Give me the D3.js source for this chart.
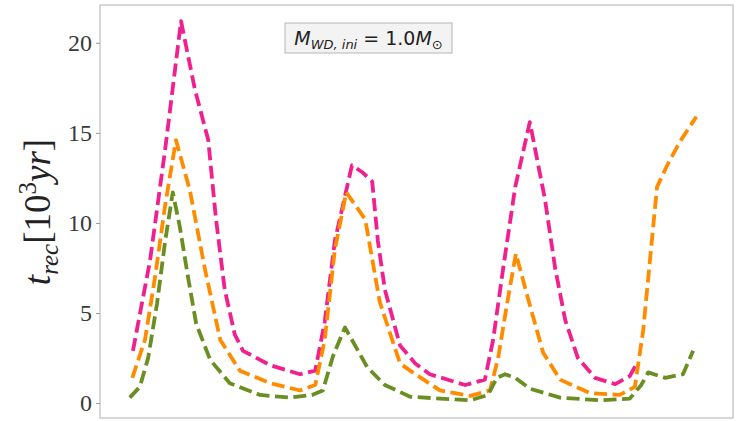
<!DOCTYPE html>
<html>
<head>
<meta charset="utf-8">
<script src="https://cdn.jsdelivr.net/npm/d3@7"></script>
<style>
  body { margin: 0; background: #fff; }
  svg { display: block; }
</style>
</head>
<body>
<div id="chart"></div>
<script>
// x is in arbitrary units (no tick labels on the x axis), y in 10^3 yr
const pinkX = [0.52, 0.79, 1.03, 1.28, 1.50, 1.71, 1.83, 1.97, 2.13, 2.26, 2.69, 3.16, 3.40, 3.55, 3.71, 3.98, 4.15, 4.30, 4.39, 4.50, 4.74, 4.98, 5.21, 5.77, 6.08, 6.21, 6.37, 6.56, 6.79, 7.03, 7.19, 7.35, 7.55, 7.82, 8.14, 8.37, 8.48];
const pinkY = [2.9, 7.9, 14.1, 21.2, 17.4, 14.6, 10.3, 6.3, 3.8, 2.9, 2.1, 1.6, 1.8, 4.5, 9.0, 13.2, 12.8, 12.3, 9.0, 6.3, 3.2, 2.2, 1.6, 1.0, 1.3, 3.5, 7.5, 12.0, 15.6, 11.3, 7.5, 4.6, 2.5, 1.4, 1.05, 1.5, 2.2];

const orangeX = [0.51, 0.71, 0.87, 1.03, 1.20, 1.42, 1.66, 1.90, 2.21, 2.69, 3.16, 3.40, 3.55, 3.71, 3.89, 4.19, 4.42, 4.74, 4.90, 5.37, 5.85, 6.16, 6.29, 6.43, 6.57, 6.77, 7.00, 7.27, 7.74, 8.21, 8.45, 8.58, 8.69, 8.80, 8.96, 9.16, 9.42];
const orangeY = [1.4, 3.5, 7.0, 11.0, 14.6, 11.8, 7.4, 3.5, 1.8, 1.1, 0.7, 1.0, 3.5, 8.5, 11.7, 10.2, 5.6, 2.2, 1.8, 0.7, 0.4, 0.7, 2.5, 5.5, 8.3, 5.7, 2.8, 1.3, 0.55, 0.45, 0.9, 4.0, 8.0, 12.0, 13.2, 14.5, 15.9];

const greenX = [0.47, 0.63, 0.76, 0.90, 1.03, 1.15, 1.26, 1.39, 1.52, 1.74, 2.05, 2.53, 3.00, 3.35, 3.52, 3.68, 3.87, 4.22, 4.50, 4.90, 5.37, 5.85, 6.13, 6.27, 6.40, 6.56, 6.79, 7.27, 7.90, 8.37, 8.55, 8.66, 8.93, 9.21, 9.37];
const greenY = [0.3, 0.9, 2.5, 5.5, 9.0, 11.7, 9.8, 7.0, 4.4, 2.4, 1.1, 0.45, 0.3, 0.45, 0.7, 2.6, 4.2, 2.0, 1.0, 0.35, 0.25, 0.15, 0.45, 1.4, 1.6, 1.4, 0.8, 0.3, 0.15, 0.25, 1.0, 1.7, 1.4, 1.6, 2.9];

const yTicks = [0, 5, 10, 15, 20];

const series = [
  { name: "pink", xs: pinkX, ys: pinkY, color: "#f0208f" },
  { name: "orange", xs: orangeX, ys: orangeY, color: "#ff8c00" },
  { name: "green", xs: greenX, ys: greenY, color: "#6b8e23" }
];

const width = 743, height = 421;
const margin = { top: 5, right: 10, bottom: 3, left: 100 };

let svg = d3.select("#chart")
    .append("svg")
    .attr("width", width)
    .attr("height", height);

let x = d3.scaleLinear()
    .domain([0, 10])
    .range([margin.left, width - margin.right]);

let y = d3.scaleLinear()
    .domain([-0.83, 22.1])
    .range([height - margin.bottom, margin.top]);

// frame
svg.append("rect")
    .attr("x", margin.left)
    .attr("y", margin.top)
    .attr("width", width - margin.right - margin.left)
    .attr("height", height - margin.bottom - margin.top)
    .attr("fill", "none")
    .attr("stroke", "#bdbdbd")
    .attr("stroke-width", 1.2);

// y axis
let yAxis = svg.append("g")
    .attr("transform", `translate(${margin.left}, 0)`)
    .call(d3.axisLeft(y).tickValues(yTicks).tickSize(4).tickPadding(4));
yAxis.select(".domain").remove();
yAxis.selectAll(".tick line").attr("stroke", "#999");
yAxis.selectAll(".tick text")
    .style("font-family", "'Liberation Serif', 'Times New Roman', serif")
    .style("font-size", "24px")
    .attr("fill", "#3a3a3a");

// y axis label
let yLabel = svg.append("text")
    .attr("transform", `translate(50, 212) rotate(-90)`)
    .style("text-anchor", "middle")
    .style("font-family", "'Liberation Serif', 'DejaVu Serif', serif")
    .style("font-size", "37px")
    .attr("fill", "#222");
yLabel.append("tspan").style("font-style", "italic").text("t");
yLabel.append("tspan").attr("dy", 8).style("font-size", "25px").style("font-style", "italic").text("rec");
yLabel.append("tspan").attr("dy", -8).text("[10");
yLabel.append("tspan").attr("dy", -14).style("font-size", "25px").text("3");
yLabel.append("tspan").attr("dy", 14).style("font-style", "italic").text("yr");
yLabel.append("tspan").text("]");

// lines
let line = d3.line()
    .x(d => x(d[0]))
    .y(d => y(d[1]));

svg.append("g").selectAll("path")
    .data(series)
    .enter()
    .append("path")
    .attr("d", s => line(d3.zip(s.xs, s.ys)))
    .attr("fill", "none")
    .attr("stroke", s => s.color)
    .attr("stroke-width", 3.8)
    .attr("stroke-dasharray", "13,5.5")
    .attr("stroke-linejoin", "round");

// annotation box
let note = svg.append("g");
note.append("rect")
    .attr("x", 285)
    .attr("y", 23)
    .attr("width", 167)
    .attr("height", 30)
    .attr("fill", "#f3f3f3")
    .attr("stroke", "#b5b5b5")
    .attr("stroke-width", 1);
let noteText = note.append("text")
    .attr("x", 368.5)
    .attr("y", 45)
    .style("text-anchor", "middle")
    .style("font-family", "'DejaVu Sans', sans-serif")
    .style("font-size", "19px")
    .attr("fill", "#222");
noteText.append("tspan").style("font-style", "italic").text("M");
noteText.append("tspan").attr("dy", 4).style("font-size", "13px").style("font-style", "italic").text("WD, ini");
noteText.append("tspan").attr("dy", -4).text(" = 1.0");
noteText.append("tspan").style("font-style", "italic").text("M");
noteText.append("tspan").attr("dy", 4).style("font-size", "13px").text("\u2299");
</script>
</body>
</html>
